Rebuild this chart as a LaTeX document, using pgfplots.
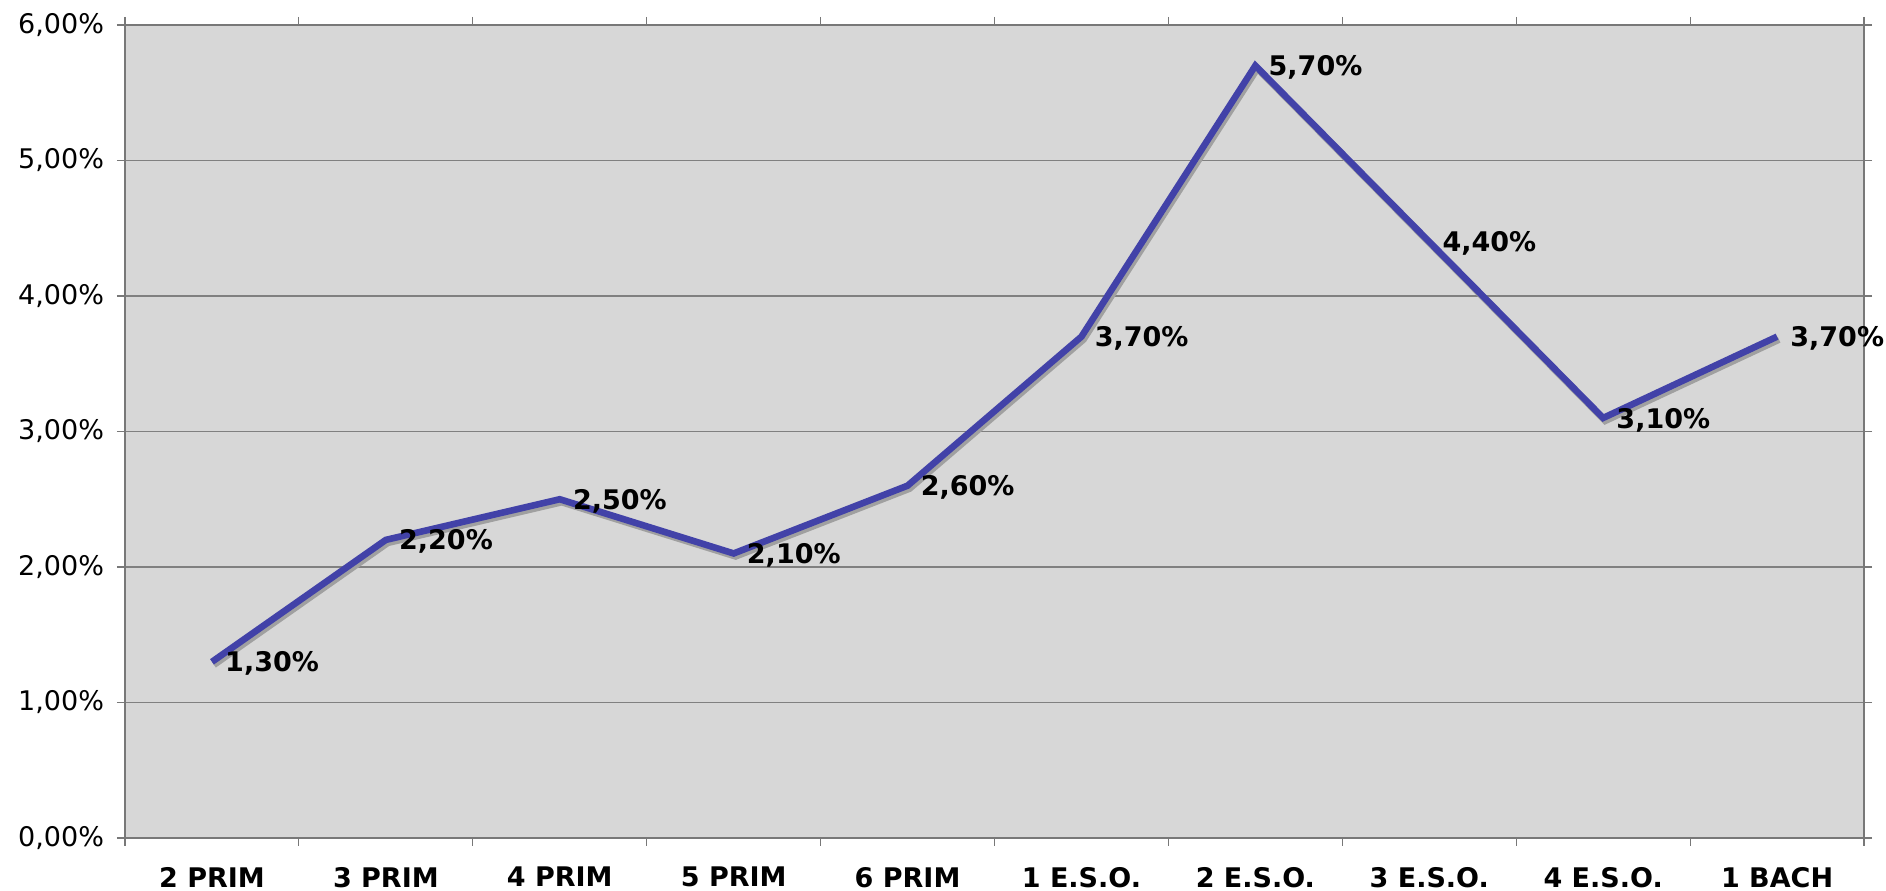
\documentclass[border=0pt]{standalone}
\usepackage{pgfplots}
\pgfplotsset{compat=1.18}
\usepackage{fontspec}
\setmainfont{DejaVu Sans}
\definecolor{plotbg}{RGB}{215,215,215}
\definecolor{linecol}{RGB}{66,66,168}
\definecolor{gridcol}{RGB}{128,128,128}
\definecolor{axiscol}{RGB}{120,120,120}
\definecolor{shadowcol}{RGB}{160,160,160}

\begin{document}
\begin{tikzpicture}
\begin{axis}[
    scale only axis,
    width=869.5pt,
    height=406.5pt,
    xmin=-0.5, xmax=9.5,
    ymin=0, ymax=6,
    axis background/.style={fill=plotbg},
    axis line style={axiscol, line width=0.8pt},
    xtick={0,...,9},
    xticklabels={2 PRIM,3 PRIM,4 PRIM,5 PRIM,6 PRIM,1 E.S.O.,2 E.S.O.,3 E.S.O.,4 E.S.O.,1 BACH},
    major x tick style={draw=none},
    minor xtick={-0.5,0.5,...,9.5},
    minor x tick style={axiscol, line width=0.6pt},
    ytick={0,...,6},
    yticklabels={{0,00\%},{1,00\%},{2,00\%},{3,00\%},{4,00\%},{5,00\%},{6,00\%}},
    y tick style={axiscol, line width=0.6pt},
    tick align=outside,
    major tick length=4pt,
    minor tick length=4pt,
    ymajorgrids,
    major grid style={gridcol, line width=0.6pt},
    xticklabel style={font=\fontsize{13.5}{15}\selectfont\bfseries, yshift=-7pt},
    yticklabel style={font=\fontsize{13.5}{15}\selectfont, xshift=-3pt},
    /pgf/number format/assume math mode=true,
    clip=false,
]
% shadow
\addplot[shadowcol, line width=3.3pt, xshift=1pt, yshift=-1.5pt] coordinates {
    (0,1.3) (1,2.2) (2,2.5) (3,2.1) (4,2.6) (5,3.7) (6,5.7) (7,4.4) (8,3.1) (9,3.7)
};
\addplot[linecol, line width=3.3pt,
    nodes near coords={\pgfmathprintnumber[use comma,fixed,fixed zerofill,precision=2,assume math mode=true]{\pgfplotspointmeta}\%},
    every node near coord/.style={anchor=west, inner sep=0pt, xshift=5pt, yshift=-1pt,
        font=\fontsize{13.5}{16}\selectfont\bfseries, text=black},
] coordinates {
    (0,1.3) (1,2.2) (2,2.5) (3,2.1) (4,2.6) (5,3.7) (6,5.7) (7,4.4) (8,3.1) (9,3.7)
};
\end{axis}
\pgfresetboundingbox
\path ([shift={(-62.5pt,-26.5pt)}]current axis.south west) rectangle ([shift={(11pt,12.5pt)}]current axis.north east);
\end{tikzpicture}
\end{document}
